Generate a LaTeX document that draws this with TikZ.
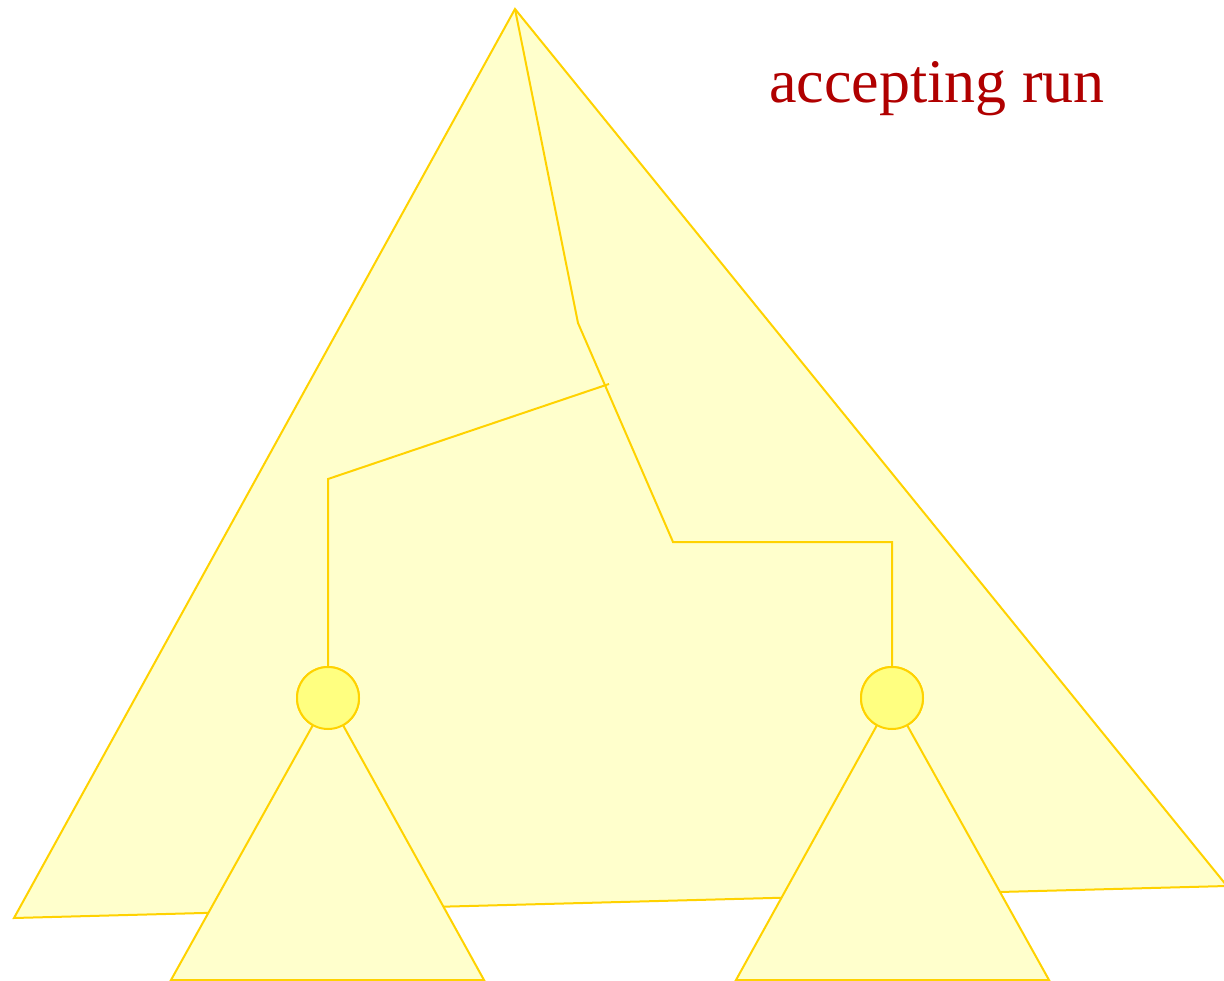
\documentclass[tikz,border=0pt]{standalone}
\usepackage{fontspec}
\setmainfont{Liberation Serif}
\definecolor{paleY}{HTML}{FFFFCC}
\definecolor{goldL}{HTML}{FFD200}
\definecolor{circY}{HTML}{FFFF80}
\definecolor{runred}{HTML}{B00000}
\begin{document}
\begin{tikzpicture}[x=1pt,y=-1pt,
  tri/.style={fill=paleY,draw=goldL,line width=2pt,line join=miter},
  edge/.style={draw=goldL,line width=2pt},
  statenode/.style={circle,fill=circY,draw=goldL,line width=2pt,minimum size=62pt,inner sep=0pt}]
\useasboundingbox (0,0) rectangle (1224,981);
% big triangle
\coordinate (apex) at (515,9);
\coordinate (bl) at (14,918);
\coordinate (br) at (1227,886);
\draw[tri] (apex) -- (bl) -- (br) -- cycle;
% tree lines
\coordinate (k1) at (578,323);
\coordinate (k2) at (673,542);
\coordinate (k3) at (892,542);
\coordinate (b0) at (609,384);
\coordinate (b1) at (328,479);
\node[statenode] (s1) at (328,698) {};
\node[statenode] (s2) at (892,698) {};
\draw[edge] (apex) -- (k1) -- (k2) -- (k3) -- (s2.north);
\draw[edge] (b0) -- (b1) -- (s1.north);
% small triangles
\coordinate (l1) at (171,980);
\coordinate (l2) at (484,980);
\coordinate (r1) at (736,980);
\coordinate (r2) at (1049,980);
\draw[tri] (s1.center) -- (l1) -- (l2) -- cycle;
\draw[tri] (s2.center) -- (r1) -- (r2) -- cycle;
\node[statenode] (s1b) at (s1) {};
\node[statenode] (s2b) at (s2) {};
% label
\node[text=runred,font=\fontsize{62}{70}\selectfont,anchor=base] (lbl) at (937,103) {accepting run};
\end{tikzpicture}
\end{document}
